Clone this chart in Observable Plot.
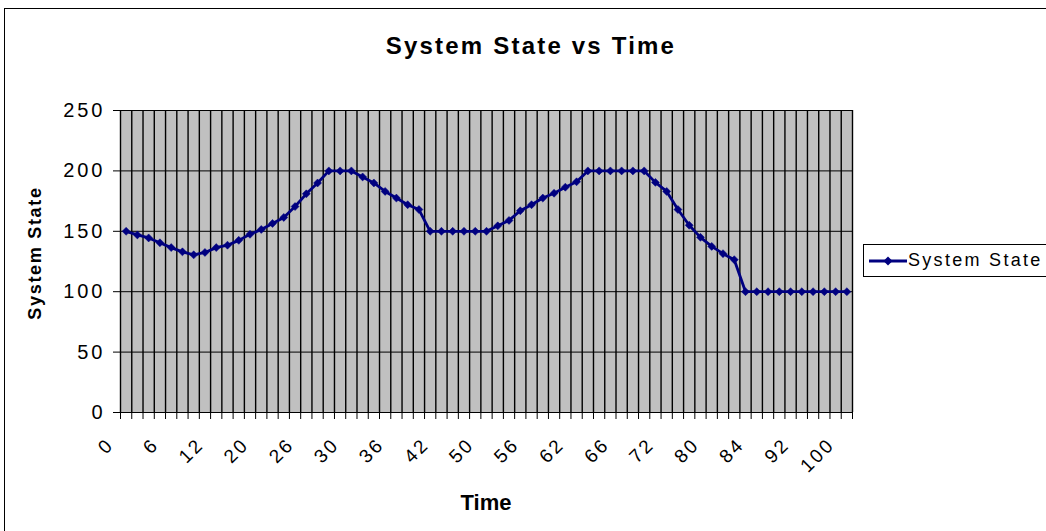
<!DOCTYPE html>
<html>
<head>
<meta charset="utf-8">
<script src="https://cdn.jsdelivr.net/npm/d3@7"></script>
<script src="https://cdn.jsdelivr.net/npm/@observablehq/plot@0.6"></script>
<style>
  html, body { margin: 0; padding: 0; background: #fff; }
  #wrap { position: relative; width: 1046px; height: 531px; overflow: hidden; background: #fff;
          font-family: "Liberation Sans", Arial, sans-serif; }
  #chart { position: absolute; left: 0; top: 0; }
  #chart svg text { font-family: "Liberation Sans", Arial, sans-serif; fill: #000; }
  #chart svg g[aria-label="y-axis tick label"] text { font-size: 20px !important; letter-spacing: 3px; }
  #chart svg g[aria-label="x-axis tick label"] text { font-size: 19px !important; letter-spacing: 2.5px; }
  .border { position: absolute; left: 4px; top: 8px; width: 1100px; height: 600px; border: 1px solid #000; box-sizing: border-box; }
  .title { position: absolute; left: 0; width: 1062px; top: 32px; text-align: center; font-weight: bold; font-size: 24px; letter-spacing: 2.2px; color: #000; white-space: nowrap; }
  .ylab { position: absolute; left: 35px; top: 253px; transform: translate(-50%, -50%) rotate(-90deg); font-weight: bold; font-size: 18px; letter-spacing: 1.7px; white-space: nowrap; }
  .xlab { position: absolute; left: 486px; top: 490px; transform: translateX(-50%); font-weight: bold; font-size: 22px; white-space: nowrap; }
  .legend { position: absolute; left: 863px; top: 244px; width: 200px; height: 33px; border: 1px solid #000; box-sizing: border-box; background: #fff; }
  .legend svg { position: absolute; left: 4px; top: 8px; }
  .legend span { position: absolute; left: 44px; top: 5px; font-size: 18px; letter-spacing: 2.3px; white-space: nowrap; }
</style>
</head>
<body>
<div id="wrap">
  <div class="border"></div>
  <div id="chart"></div>
  <div class="title">System State vs Time</div>
  <div class="ylab">System State</div>
  <div class="xlab">Time</div>
  <div class="legend">
    <svg width="40" height="16"><line x1="1" y1="8" x2="39" y2="8" stroke="#000080" stroke-width="2.8"/><path d="M20,3.5 L24.5,8 L20,12.5 L15.5,8 Z" fill="#000080"/></svg>
    <span>System State</span>
  </div>
</div>
<script>
// System state values, one per time category (65 categories)
const systemState = [
  150, 147, 144.5, 140.5, 136.5, 133, 130.5, 132.5, 136.5, 138.5,
  142.5, 147.5, 151.5, 156.5, 161.5, 170.5, 181, 190, 200, 200,
  200, 195, 190, 183, 177.5, 172, 168, 150, 150, 150,
  150, 150, 150, 154.5, 159, 167, 172, 177.5, 181.5, 186.5,
  191, 200, 200, 200, 200, 200, 200, 190.5, 183, 168,
  155, 145, 137.5, 131.5, 126.5, 100, 100, 100, 100, 100,
  100, 100, 100, 100, 100
];
// Time tick labels shown on every 4th category
const timeLabels = [0, 6, 12, 20, 26, 30, 36, 42, 50, 56, 62, 66, 72, 80, 84, 92, 100];
const yTicks = [0, 50, 100, 150, 200, 250];

const data = systemState.map((v, i) => ({i, v}));
const boundaries = d3.range(0, systemState.length + 1).map((k) => k - 0.5);
const labelCats = timeLabels.map((_, k) => k * 4);

const plot = Plot.plot({
  width: 1046,
  height: 531,
  marginLeft: 120,
  marginRight: 194,
  marginTop: 110,
  marginBottom: 119,
  style: {fontFamily: "'Liberation Sans', Arial, sans-serif", fontSize: "19px", color: "#000", background: "transparent"},
  x: {type: "linear", domain: [-0.5, systemState.length - 0.5]},
  y: {domain: [0, 250]},
  marks: [
    Plot.frame({fill: "#c0c0c0", stroke: null}),
    Plot.ruleY(yTicks, {stroke: "#000", strokeWidth: 1}),
    Plot.ruleX(boundaries, {y1: 0, y2: 250, stroke: "#000", strokeWidth: 1.4}),
    Plot.axisY(yTicks, {tickSize: 7, tickPadding: 8, fontSize: 20, label: null, stroke: "#000"}),
    Plot.ruleX([-0.5], {y1: 0, y2: 250, stroke: "#000", strokeWidth: 1}),
    Plot.axisX(boundaries, {tickSize: 7, tickFormat: () => "", label: null}),
    Plot.axisX(labelCats, {tickSize: 0, tickPadding: 12, tickRotate: -45, fontSize: 19,
      dx: -15.5, dy: 17, tickFormat: (d) => String(timeLabels[d / 4]), label: null}),
    Plot.ruleY([0], {stroke: "#000", strokeWidth: 1}),
    Plot.line(data, {x: "i", y: "v", stroke: "#000080", strokeWidth: 2.8}),
    Plot.dot(data, {x: "i", y: "v", symbol: "diamond2", r: 3.6, fill: "#000080", stroke: "#000080", strokeWidth: 0.5})
  ]
});
document.getElementById("chart").appendChild(plot);
</script>
</body>
</html>
